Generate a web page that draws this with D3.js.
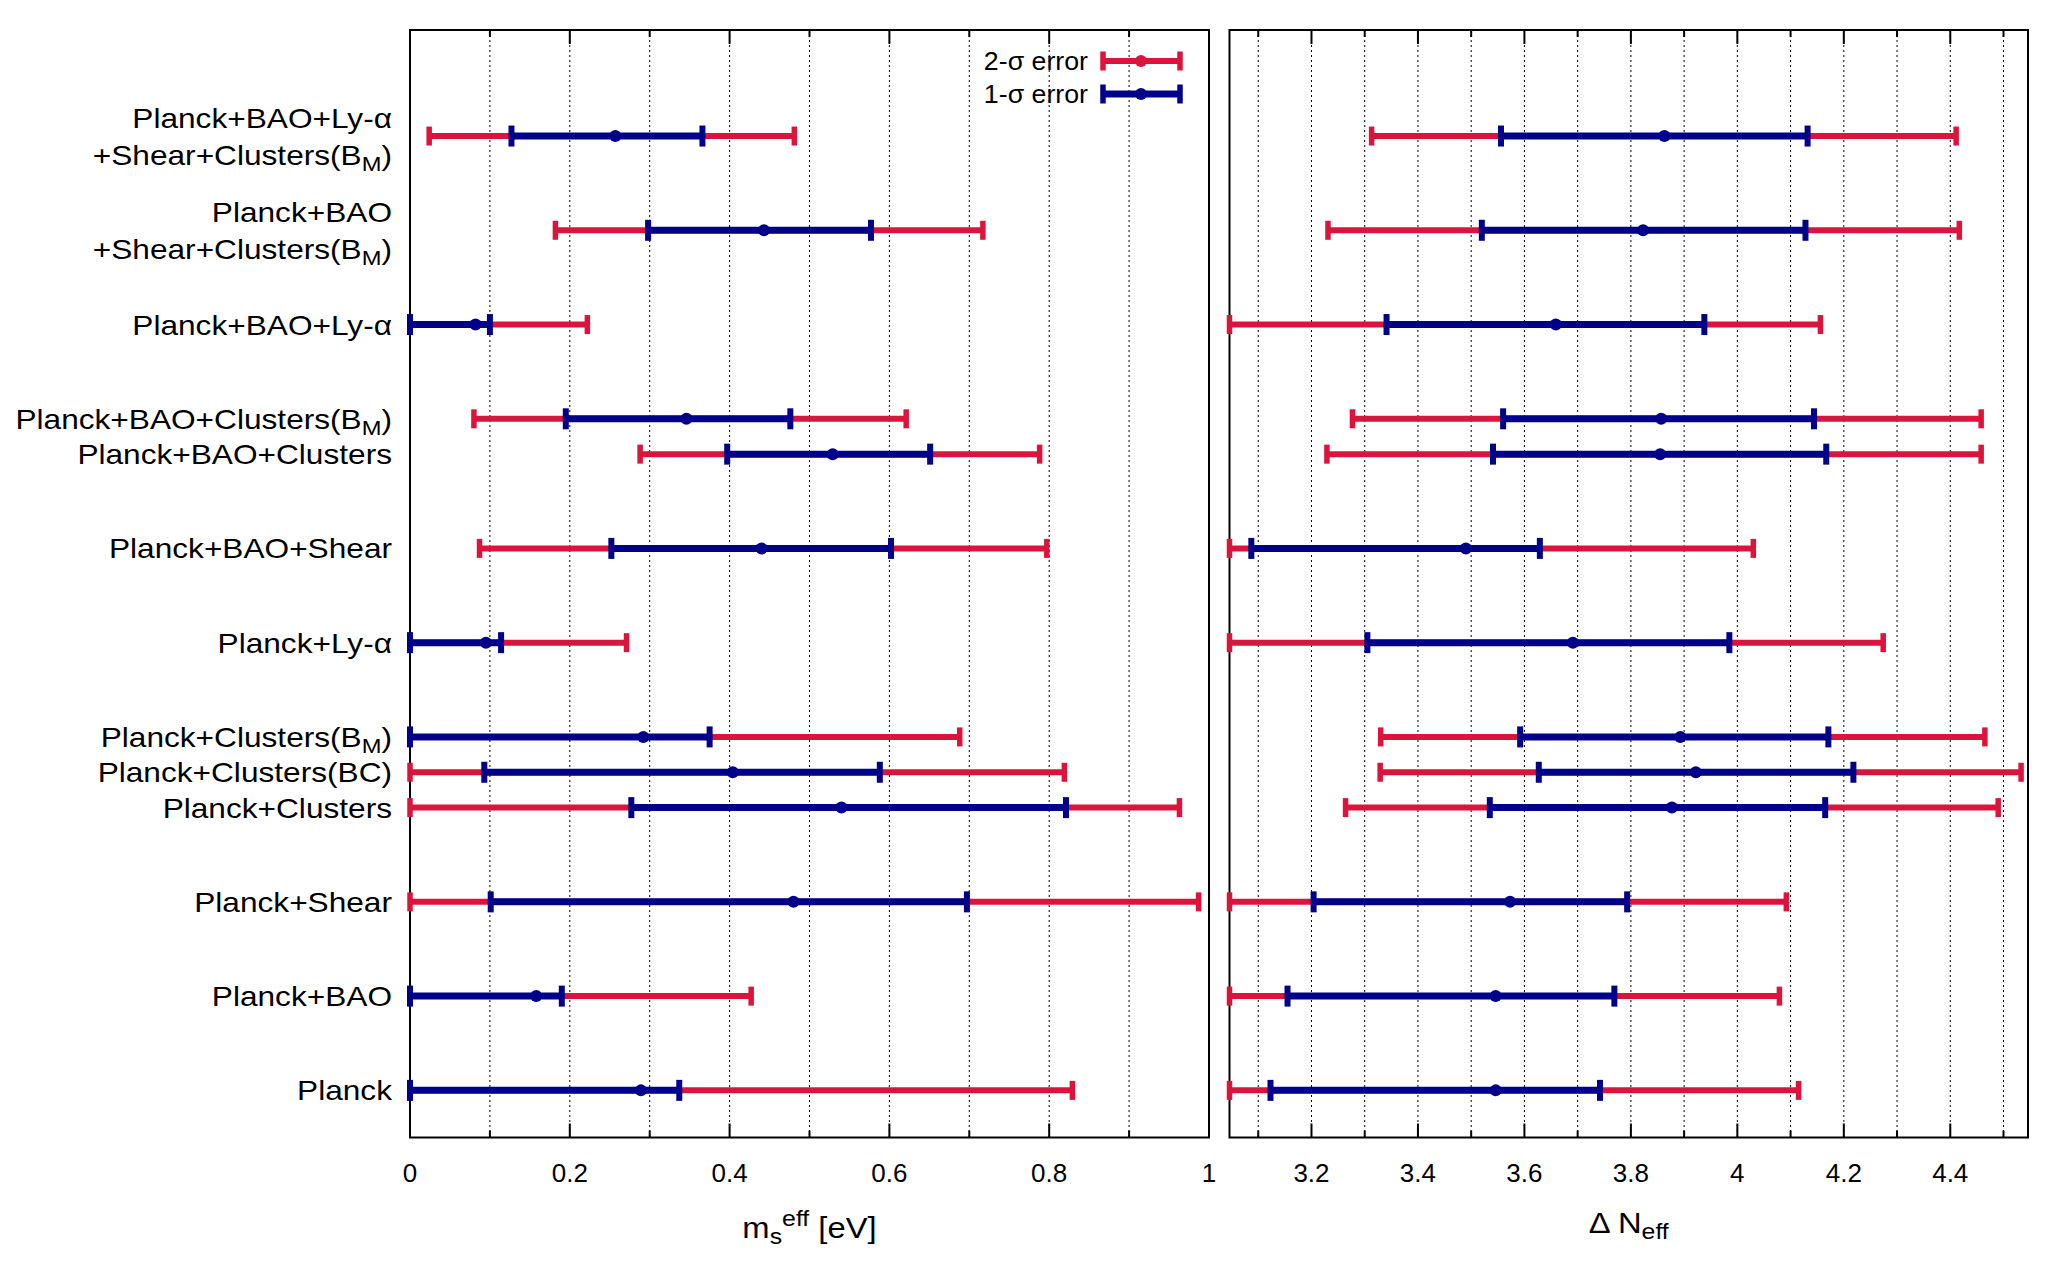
<!DOCTYPE html>
<html>
<head>
<meta charset="utf-8">
<script src="https://cdn.jsdelivr.net/npm/d3@7"></script>
<style>
    body { margin: 0; background: #fff; }
    svg text { font-family: "Liberation Sans", Arial, Helvetica, sans-serif; fill: #000; }
</style>
</head>
<body>
<div id="chart"></div>
<script>
// Row labels, top to bottom ("_{..}" marks a subscript)
const rowLabels = [
    ["Planck+BAO+Ly-α", "+Shear+Clusters(B_{M})"],
    ["Planck+BAO", "+Shear+Clusters(B_{M})"],
    ["Planck+BAO+Ly-α"],
    ["Planck+BAO+Clusters(B_{M})"],
    ["Planck+BAO+Clusters"],
    ["Planck+BAO+Shear"],
    ["Planck+Ly-α"],
    ["Planck+Clusters(B_{M})"],
    ["Planck+Clusters(BC)"],
    ["Planck+Clusters"],
    ["Planck+Shear"],
    ["Planck+BAO"],
    ["Planck"]
];

// y slot of each row (plot units)
const rowSlot = [11.125, 10.125, 9.125, 8.125, 7.75, 6.75, 5.75, 4.75, 4.375, 4, 3, 2, 1];

// m_s^eff [eV]: 2-sigma low, 1-sigma low, best fit, 1-sigma high, 2-sigma high
const mLo2  = [0.024, 0.182, 0,     0.080, 0.288, 0.087, 0,     0,     0,     0,     0,     0,     0];
const mLo1  = [0.127, 0.298, 0,     0.195, 0.397, 0.252, 0,     0,     0.093, 0.277, 0.101, 0,     0];
const mBest = [0.257, 0.443, 0.082, 0.346, 0.529, 0.440, 0.095, 0.292, 0.404, 0.540, 0.480, 0.158, 0.289];
const mHi1  = [0.366, 0.577, 0.100, 0.476, 0.651, 0.602, 0.114, 0.375, 0.588, 0.821, 0.697, 0.190, 0.337];
const mHi2  = [0.481, 0.717, 0.222, 0.621, 0.788, 0.797, 0.271, 0.688, 0.819, 0.963, 0.987, 0.427, 0.829];

// N_eff
const nLo2  = [3.313, 3.231, 3.046, 3.277, 3.229, 3.046, 3.046, 3.330, 3.329, 3.264, 3.046, 3.046, 3.046];
const nLo1  = [3.556, 3.520, 3.341, 3.560, 3.541, 3.087, 3.305, 3.592, 3.627, 3.535, 3.204, 3.155, 3.123];
const nBest = [3.863, 3.823, 3.659, 3.857, 3.855, 3.490, 3.691, 3.893, 3.922, 3.877, 3.573, 3.546, 3.546];
const nHi1  = [4.132, 4.128, 3.938, 4.144, 4.167, 3.629, 3.985, 4.171, 4.218, 4.165, 3.793, 3.769, 3.742];
const nHi2  = [4.411, 4.417, 4.156, 4.458, 4.458, 4.030, 4.274, 4.465, 4.533, 4.490, 4.092, 4.079, 4.115];

// tick values
const mTicks = d3.range(0, 11).map(i => i / 10);
const mTickLabels = [0, 0.2, 0.4, 0.6, 0.8, 1];
const nTicks = d3.range(31, 46).map(i => i / 10);
const nTickLabels = [3.2, 3.4, 3.6, 3.8, 4, 4.2, 4.4];

const legendItems = ["2-σ error", "1-σ error"];

const RED = "#dc143c", BLUE = "#00008b";

const W = 2048, H = 1280;
const plotTop = 30, plotBottom = 1137.5;
const stretch = 1.13; // the original labels are a bit wider than Liberation Sans

const svg = d3.select("#chart").append("svg")
    .attr("width", W)
    .attr("height", H);

const y = d3.scaleLinear().domain([0.5, 12.25]).range([plotBottom, plotTop]);

// writes "abc_{x}def^{y}" style text into a text element
function richText(sel, str, size) {
    const parts = str.split(/([_^]\{[^}]*\})/).filter(s => s.length);
    let shift = 0;
    parts.forEach(p => {
        let dy = 0, txt = p, fs = size;
        if (p[0] === "_" || p[0] === "^") {
            txt = p.slice(2, -1);
            fs = Math.round(size * 0.75);
            dy = p[0] === "_" ? size * 0.22 : -size * 0.42;
        }
        sel.append("tspan")
            .attr("dy", dy - shift)
            .style("font-size", fs + "px")
            .text(txt);
        shift = dy;
    });
}

// stretched text placed at (x, y)
function wideText(x, y, anchor, size) {
    return svg.append("text")
        .attr("transform", `translate(${x},${y}) scale(${stretch},1)`)
        .attr("text-anchor", anchor)
        .style("font-size", size + "px");
}

function drawPanel(x, ticks, tickLabels, lo2, lo1, best, hi1, hi2, fmt) {
    const g = svg.append("g");
    const [x0, x1] = x.range();

    // dotted grid
    g.selectAll(".grid")
        .data(ticks.filter(t => x(t) > x0 + 1 && x(t) < x1 - 1))
        .enter().append("line")
        .attr("class", "grid")
        .attr("x1", d => x(d)).attr("x2", d => x(d))
        .attr("y1", plotTop).attr("y2", plotBottom)
        .attr("stroke", "#000")
        .attr("stroke-width", 1)
        .attr("stroke-dasharray", "2,3");

    // ticks, long at labelled values, mirrored on top
    const isMajor = t => tickLabels.some(l => Math.abs(l - t) < 1e-6);
    g.selectAll(".tickb")
        .data(ticks)
        .enter().append("line")
        .attr("x1", d => x(d)).attr("x2", d => x(d))
        .attr("y1", plotBottom).attr("y2", d => plotBottom - (isMajor(d) ? 14 : 7))
        .attr("stroke", "#000").attr("stroke-width", 2);
    g.selectAll(".tickt")
        .data(ticks)
        .enter().append("line")
        .attr("x1", d => x(d)).attr("x2", d => x(d))
        .attr("y1", plotTop).attr("y2", d => plotTop + (isMajor(d) ? 14 : 7))
        .attr("stroke", "#000").attr("stroke-width", 2);

    // tick labels
    g.selectAll(".tlabel")
        .data(tickLabels)
        .enter().append("text")
        .attr("x", d => x(d))
        .attr("y", 1181.5)
        .attr("text-anchor", "middle")
        .style("font-size", "26px")
        .text(fmt);

    // frame
    g.append("rect")
        .attr("x", x0).attr("y", plotTop)
        .attr("width", x1 - x0).attr("height", plotBottom - plotTop)
        .attr("fill", "none")
        .attr("stroke", "#000")
        .attr("stroke-width", 2);

    const rows = rowSlot.map((s, i) => ({ s, lo2: lo2[i], lo1: lo1[i], best: best[i], hi1: hi1[i], hi2: hi2[i] }));

    function bars(lo, hi, color, lw, capH, capW) {
        const b = g.append("g");
        b.selectAll("line.bar")
            .data(rows)
            .enter().append("line")
            .attr("class", "bar")
            .attr("x1", d => x(d[lo])).attr("x2", d => x(d[hi]))
            .attr("y1", d => y(d.s)).attr("y2", d => y(d.s))
            .attr("stroke", color).attr("stroke-width", lw);
        [lo, hi].forEach(k => {
            b.selectAll("line.cap-" + k)
                .data(rows)
                .enter().append("line")
                .attr("class", "cap-" + k)
                .attr("x1", d => x(d[k])).attr("x2", d => x(d[k]))
                .attr("y1", d => y(d.s) - capH / 2).attr("y2", d => y(d.s) + capH / 2)
                .attr("stroke", color).attr("stroke-width", capW);
        });
    }
    bars("lo2", "hi2", RED, 6, 19, 5.5);
    bars("lo1", "hi1", BLUE, 7, 21, 6);

    g.selectAll(".dot")
        .data(rows)
        .enter().append("circle")
        .attr("cx", d => x(d.best))
        .attr("cy", d => y(d.s))
        .attr("r", 6)
        .attr("fill", BLUE);
}

const xM = d3.scaleLinear().domain([0, 1]).range([410, 1209]);
const xN = d3.scaleLinear().domain([3.046, 4.546]).range([1229.5, 2028]);

drawPanel(xM, mTicks, mTickLabels, mLo2, mLo1, mBest, mHi1, mHi2, d => d3.format("~g")(d));
drawPanel(xN, nTicks, nTickLabels, nLo2, nLo1, nBest, nHi1, nHi2, d => d3.format("~g")(d));

// row labels
rowLabels.forEach((lines, i) => {
    const cy = y(rowSlot[i]);
    lines.forEach((ln, j) => {
        const off = (j - (lines.length - 1) / 2) * 37;
        richText(wideText(392, cy + off + 10, "end", 28), ln, 28);
    });
});

// axis titles
richText(wideText(xM(0.5), 1238, "middle", 29), "m_{s}^{eff} [eV]", 29);
richText(wideText(d3.mean(xN.range()), 1233, "middle", 29), "Δ N_{eff}", 29);

// legend
const legend = svg.append("g").attr("class", "legend");
legendItems.forEach((name, i) => {
    const ly = 61 + i * 33;
    const color = i === 0 ? RED : BLUE;
    const lw = i === 0 ? 6 : 7;
    legend.append("text")
        .attr("transform", `translate(1088,${ly + 9}) scale(1.07,1)`)
        .attr("text-anchor", "end")
        .style("font-size", "25px")
        .text(name);
    legend.append("line")
        .attr("x1", 1103).attr("x2", 1180).attr("y1", ly).attr("y2", ly)
        .attr("stroke", color).attr("stroke-width", lw);
    [1103, 1180].forEach(xx => legend.append("line")
        .attr("x1", xx).attr("x2", xx).attr("y1", ly - 9.5).attr("y2", ly + 9.5)
        .attr("stroke", color).attr("stroke-width", 5.5));
    legend.append("circle").attr("cx", 1141).attr("cy", ly).attr("r", 6).attr("fill", color);
});
</script>
</body>
</html>
